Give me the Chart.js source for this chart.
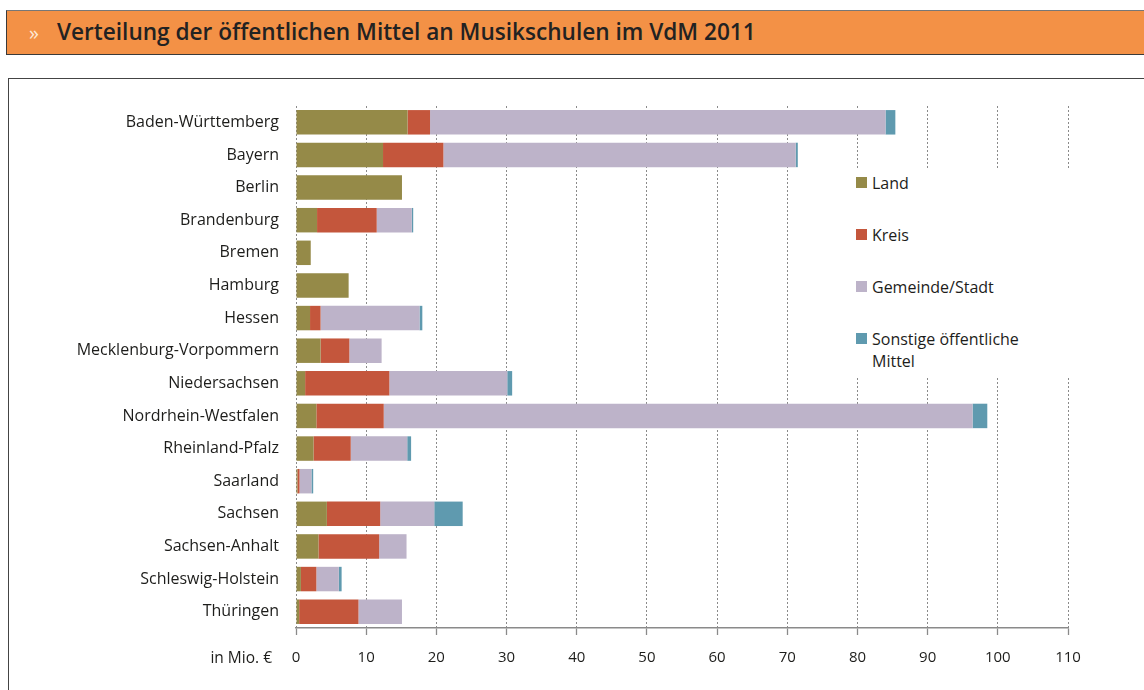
<!DOCTYPE html>
<html>
<head>
<meta charset="utf-8">
<script src="https://cdn.jsdelivr.net/npm/chart.js@4"></script>
<style>
body{margin:0;background:#fff;width:1144px;height:690px;overflow:hidden;font-family:"Open Sans",sans-serif;color:#1d1d1b;}
#titlebar{position:absolute;left:6px;top:10px;width:1140px;height:43px;background:#f39146;border-left:1.5px solid #3a3a3a;border-bottom:1.5px solid #3a3a3a;border-top:1px solid #777;}
#titlebar .arrow{position:absolute;left:22px;top:8px;font-size:20px;color:#fde8d4;}
#titlebar .txt{position:absolute;left:50px;top:5px;font-size:22.6px;font-weight:600;color:#222;white-space:nowrap;}
#box{position:absolute;left:8px;top:78px;width:1140px;height:620px;border:1.5px solid #444;}
#chartwrap{position:absolute;left:0;top:0;}
#unit{position:absolute;right:872px;top:646px;font-size:15.5px;white-space:nowrap;}
#legend{position:absolute;left:846px;top:168px;width:240px;height:209px;background:#fff;}
.li{position:absolute;left:10px;font-size:16px;line-height:22px;}
.li i{position:absolute;left:0;top:5px;width:11px;height:11px;}
.li span{display:block;margin-left:16px;}
</style>
</head>
<body>
<div id="titlebar"><span class="arrow">»</span><span class="txt">Verteilung der öffentlichen Mittel an Musikschulen im VdM 2011</span></div>
<div id="box"></div>
<div id="chartwrap"><canvas id="chart" width="1144" height="690"></canvas></div>
<div id="unit">in Mio. €</div>
<div id="legend"></div>
<script>
const laender = ['Baden-Württemberg', 'Bayern', 'Berlin', 'Brandenburg', 'Bremen', 'Hamburg', 'Hessen',
    'Mecklenburg-Vorpommern', 'Niedersachsen', 'Nordrhein-Westfalen', 'Rheinland-Pfalz', 'Saarland',
    'Sachsen', 'Sachsen-Anhalt', 'Schleswig-Holstein', 'Thüringen'];
// Werte in Mio. Euro
const land     = [15.9, 12.4, 15.1, 3.0, 2.1, 7.5, 2.0, 3.5, 1.3, 2.9, 2.5, 0.2, 4.4, 3.2, 0.7, 0.45];
const kreis    = [3.2, 8.6, 0, 8.5, 0, 0, 1.5, 4.1, 12.0, 9.6, 5.3, 0.3, 7.6, 8.65, 2.2, 8.45];
const gemeinde = [64.9, 50.2, 0, 5.0, 0, 0, 14.1, 4.6, 16.8, 83.9, 8.05, 1.7, 7.7, 3.9, 3.2, 6.2];
const sonstige = [1.4, 0.3, 0, 0.2, 0, 0, 0.4, 0, 0.7, 2.1, 0.55, 0.25, 4.05, 0, 0.4, 0];
const xTicks = [0, 10, 20, 30, 40, 50, 60, 70, 80, 90, 100, 110];

const serien = [
    {label: 'Land', data: land, color: '#958a48'},
    {label: 'Kreis', data: kreis, color: '#c4563c'},
    {label: 'Gemeinde/Stadt', data: gemeinde, color: '#bdb3c9'},
    {label: 'Sonstige öffentliche Mittel', data: sonstige, color: '#5f9aaf'}
];

// Legende als HTML
const legendTops = [4, 56, 108, 160];
const leg = document.getElementById('legend');
serien.forEach(function(s, i){
    const d = document.createElement('div');
    d.className = 'li';
    d.style.top = legendTops[i] + 'px';
    const txt = s.label == 'Sonstige öffentliche Mittel' ? 'Sonstige öffentliche<br>Mittel' : s.label;
    d.innerHTML = '<i style="background:' + s.color + '"></i><span>' + txt + '</span>';
    leg.appendChild(d);
});

const ctx = document.getElementById('chart').getContext('2d');
const chart = new Chart(ctx, {
    type: 'bar',
    data: {
        labels: laender,
        datasets: serien.map(function(s){
            return {label: s.label, data: s.data, backgroundColor: s.color, borderWidth: 0,
                categoryPercentage: 1, barPercentage: 0.75};
        })
    },
    options: {
        indexAxis: 'y',
        responsive: false,
        animation: false,
        layout: {padding: {left: 0, top: 106, right: 76, bottom: 0}},
        plugins: {legend: {display: false}, tooltip: {enabled: false}},
        scales: {
            x: {
                stacked: true,
                min: 0, max: 110,
                afterBuildTicks: function(axis){ axis.ticks = xTicks.map(function(v){ return {value: v}; }); },
                afterFit: function(axis){ axis.height = 62; },
                grid: {color: '#8a8a8a', lineWidth: 1, borderDash: [2, 2], tickLength: 7,
                    tickColor: '#8a8a8a', tickBorderDash: [], tickWidth: 1.3},
                border: {display: true, color: '#8a8a8a', width: 1.5, dash: [2, 2]},
                ticks: {padding: 14, color: '#1d1d1b', font: {family: 'Open Sans', size: 15}, maxRotation: 0}
            },
            y: {
                stacked: true,
                afterFit: function(axis){ axis.width = 296; },
                grid: {display: false},
                border: {display: false},
                ticks: {padding: 9, color: '#1d1d1b', font: {family: 'Open Sans', size: 16}}
            }
        }
    }
});
</script>
</body>
</html>
